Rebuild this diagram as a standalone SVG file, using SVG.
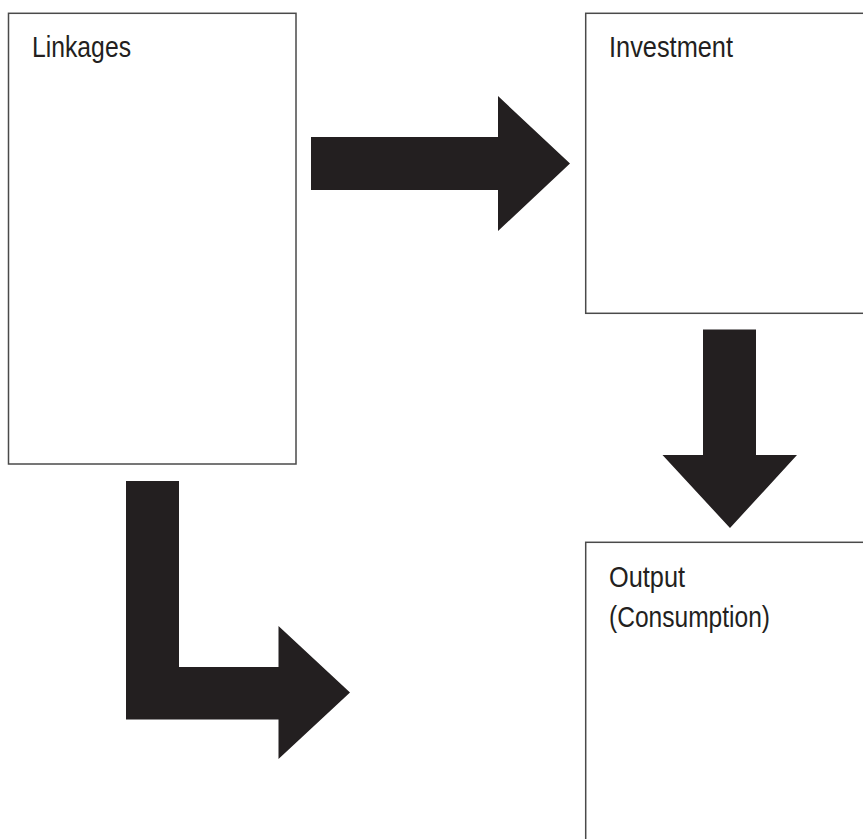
<svg xmlns="http://www.w3.org/2000/svg" width="863" height="839" viewBox="0 0 863 839">
<style>
.box{fill:#fff;stroke:#4a4a4a;stroke-width:1.5}
.lbl{font-family:"Liberation Sans",Arial,sans-serif;font-size:30px;fill:#231f20}
.arr{fill:#231f20;stroke:none}
</style>
<rect width="863" height="839" fill="#fff"/>
<g id="linkages">
<rect class="box" x="8.5" y="13.3" width="287.5" height="450.7"/>
<text class="lbl" x="32" y="57" textLength="99" lengthAdjust="spacingAndGlyphs">Linkages</text>
</g>
<g id="investment">
<rect class="box" x="585.7" y="13.3" width="300" height="300"/>
<text class="lbl" x="609" y="57" textLength="124" lengthAdjust="spacingAndGlyphs">Investment</text>
</g>
<g id="output">
<rect class="box" x="585.7" y="542.3" width="300" height="320"/>
<text class="lbl" x="609" y="587" textLength="76" lengthAdjust="spacingAndGlyphs">Output</text>
<text class="lbl" x="609" y="627" textLength="161" lengthAdjust="spacingAndGlyphs">(Consumption)</text>
</g>
<g id="connectors">
<polygon class="arr" points="311,137 498,137 498,96 570,163.5 498,231 498,190 311,190"/>
<polygon class="arr" points="703,329.5 756,329.5 756,455 797,455 730,528 662.5,455 703,455"/>
<polygon class="arr" points="126,481 179,481 179,667 278.5,667 278.5,626 350,692.5 278.5,759 278.5,719.5 126,719.5"/>
</g>
</svg>
